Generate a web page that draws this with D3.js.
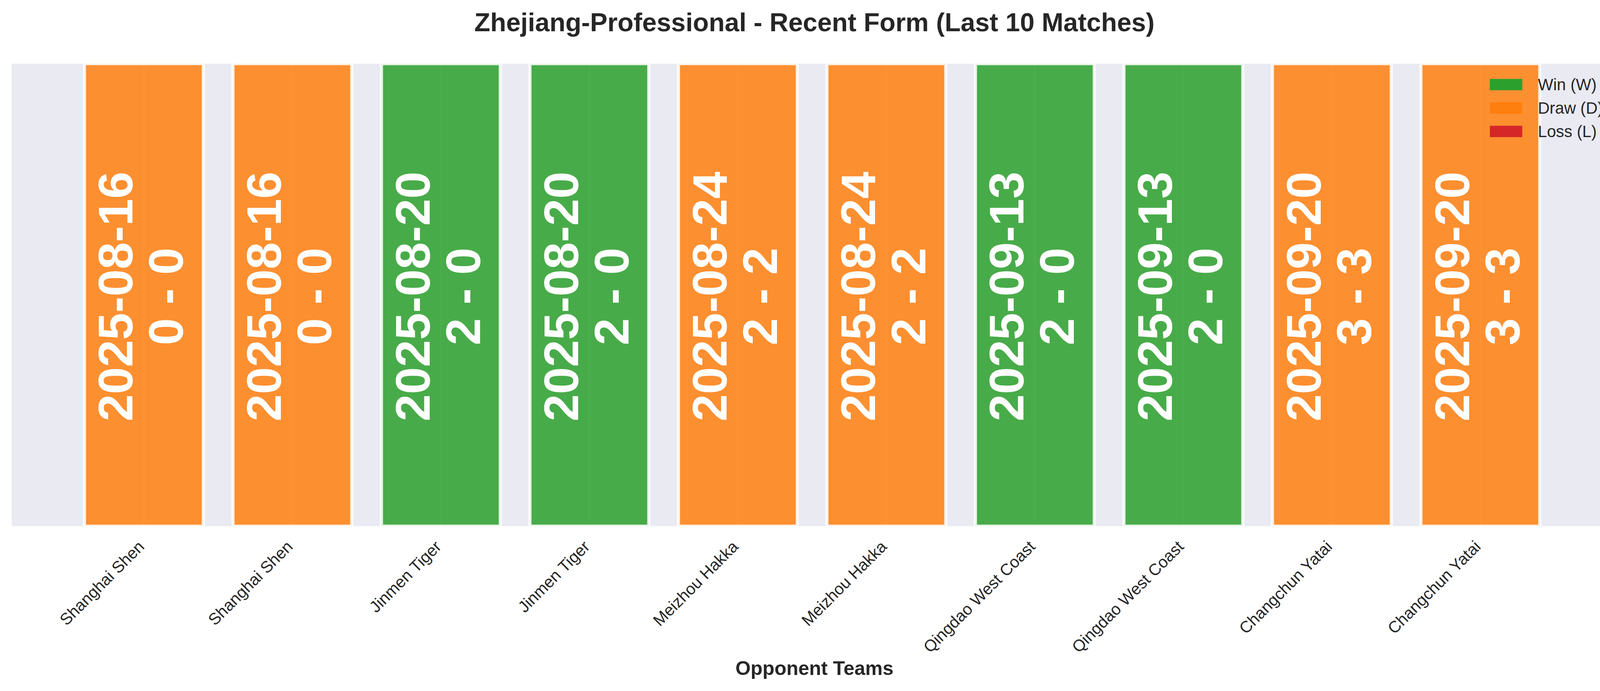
<!DOCTYPE html>
<html>
<head>
<meta charset="utf-8">
<script src="https://cdn.jsdelivr.net/npm/d3@7"></script>
<style>
  html, body { margin: 0; padding: 0; background: #fff; overflow: hidden; }
  svg { display: block; }
  text { font-family: Arial, "Liberation Sans", sans-serif; }
</style>
</head>
<body>
<div id="chart"></div>
<script>
// Recent form chart
var opponents = ["Shanghai Shen", "Shanghai Shen", "Jinmen Tiger", "Jinmen Tiger", "Meizhou Hakka",
    "Meizhou Hakka", "Qingdao West Coast", "Qingdao West Coast", "Changchun Yatai", "Changchun Yatai"];
var matchDates = ["2025-08-16", "2025-08-16", "2025-08-20", "2025-08-20", "2025-08-24",
    "2025-08-24", "2025-09-13", "2025-09-13", "2025-09-20", "2025-09-20"];
var scores = ["0 - 0", "0 - 0", "2 - 0", "2 - 0", "2 - 2", "2 - 2", "2 - 0", "2 - 0", "3 - 3", "3 - 3"];
var results = ["D", "D", "W", "W", "D", "D", "W", "W", "D", "D"];
var barHeights = [1, 1, 1, 1, 1, 1, 1, 1, 1, 1];
var legendKeys = ["W", "D", "L"];
var legendLabels = ["Win (W)", "Draw (D)", "Loss (L)"];
var resultColors = { W: "#2ca02c", D: "#ff7f0e", L: "#d62728" };

var svgWidth = 4170;
var svgHeight = 1769;

var plot = { left: 30, right: 4128, top: 163, bottom: 1347 };

var svg = d3.select("#chart")
    .append("svg")
    .attr("width", svgWidth)
    .attr("height", svgHeight);

var matches = opponents.map(function (d, i) {
    return { i: i, opponent: d, date: matchDates[i], score: scores[i], result: results[i], h: barHeights[i] };
});

// scales (xlim like matplotlib's bar margins)
var xScale = d3.scaleLinear()
    .domain([-0.89, 9.89])
    .range([plot.left, plot.right]);

var yScale = d3.scaleLinear()
    .domain([0, 1])
    .range([plot.bottom, plot.top]);

var barWidth = xScale(0.8) - xScale(0);

// background
svg.append("rect")
    .attr("x", plot.left)
    .attr("y", plot.top)
    .attr("width", plot.right - plot.left)
    .attr("height", plot.bottom - plot.top)
    .attr("fill", "#eaeaf2");

svg.append("clipPath")
    .attr("id", "plotClip")
    .append("rect")
    .attr("x", plot.left)
    .attr("y", plot.top)
    .attr("width", plot.right - plot.left)
    .attr("height", plot.bottom - plot.top);

// grid lines
svg.append("g").selectAll("line")
    .data(matches)
    .enter()
    .append("line")
    .attr("x1", d => xScale(d.i))
    .attr("x2", d => xScale(d.i))
    .attr("y1", plot.top)
    .attr("y2", plot.bottom)
    .attr("stroke", "#fff")
    .attr("stroke-width", 4);

// bars
svg.append("g")
    .attr("clip-path", "url(#plotClip)")
    .selectAll("rect")
    .data(matches)
    .enter()
    .append("rect")
    .attr("x", d => xScale(d.i) - barWidth / 2)
    .attr("y", d => yScale(d.h))
    .attr("width", barWidth)
    .attr("height", d => yScale(0) - yScale(d.h))
    .attr("fill", d => resultColors[d.result])
    .attr("fill-opacity", 0.85)
    .attr("stroke", "#fff")
    .attr("stroke-opacity", 0.85)
    .attr("stroke-width", 8);

// labels inside bars
var labelY = (yScale(0.5)) + 4;
var barLabels = svg.append("g").selectAll("g")
    .data(matches)
    .enter()
    .append("g")
    .attr("transform", d => `translate(${xScale(d.i)}, ${labelY}) rotate(-90)`);

barLabels.append("text")
    .attr("x", 0)
    .attr("y", -29)
    .attr("text-anchor", "middle")
    .attr("font-size", "125px")
    .attr("font-weight", "700")
    .attr("fill", "#fff")
    .text(d => d.date);

barLabels.append("text")
    .attr("x", 0)
    .attr("y", 100)
    .attr("text-anchor", "middle")
    .attr("font-size", "125px")
    .attr("font-weight", "700")
    .attr("fill", "#fff")
    .text(d => d.score);

// x axis
var bottomAxis = d3.axisBottom(xScale)
    .tickValues(d3.range(opponents.length))
    .tickFormat(i => opponents[i])
    .tickSize(0);

var xAxis = svg.append("g")
    .attr("transform", `translate(0, ${plot.bottom})`)
    .call(bottomAxis);

xAxis.select(".domain").remove();
xAxis.selectAll("text")
    .attr("y", null)
    .attr("dy", null)
    .attr("text-anchor", "end")
    .attr("font-size", "41.7px")
    .attr("font-family", "Arial, 'Liberation Sans', sans-serif")
    .attr("fill", "#262626")
    .attr("transform", "translate(3, 55) rotate(-45)");

// axis label
svg.append("text")
    .attr("x", 2085)
    .attr("y", 1728)
    .attr("text-anchor", "middle")
    .attr("font-size", "50px")
    .attr("font-weight", "700")
    .attr("fill", "#262626")
    .text("Opponent Teams");

// title
svg.append("text")
    .attr("x", 2085)
    .attr("y", 80)
    .attr("text-anchor", "middle")
    .attr("font-size", "66.7px")
    .attr("font-weight", "700")
    .attr("fill", "#262626")
    .text("Zhejiang-Professional - Recent Form (Last 10 Matches)");

// legend
var legend = svg.append("g")
    .attr("transform", "translate(3814, 202)");

var legendRows = legend.selectAll("g")
    .data(legendKeys)
    .enter()
    .append("g")
    .attr("transform", (d, i) => `translate(0, ${i * 60})`);

legendRows.append("rect")
    .attr("width", 83)
    .attr("height", 29)
    .attr("fill", d => resultColors[d]);

legendRows.append("text")
    .attr("x", 123)
    .attr("y", 29)
    .attr("font-size", "41.7px")
    .attr("fill", "#262626")
    .text((d, i) => legendLabels[i]);
</script>
</body>
</html>
